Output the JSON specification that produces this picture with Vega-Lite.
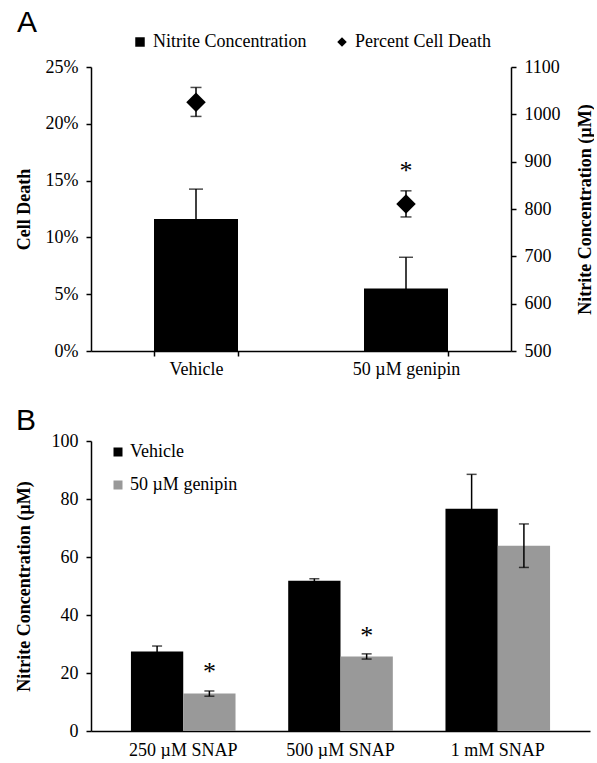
{
  "$schema": "https://vega.github.io/schema/vega-lite/v6.json",
  "padding": {"left": 15, "top": 8, "right": 0, "bottom": 0},
  "background": "white",
  "config": {
    "font": "Liberation Serif",
    "view": {"stroke": null},
    "style": {"guide-label": {"font": "Liberation Serif", "fontSize": 18, "fill": "#000"}, "guide-title": {"font": "Liberation Serif"}},
    "axis": {
      "domainColor": "#000", "domainWidth": 1.5,
      "tickColor": "#000", "tickWidth": 1.5, "tickSize": 5,
      "labelFont": "Liberation Serif", "labelFontSize": 18, "labelColor": "#000",
      "titleFont": "Liberation Serif", "titleFontSize": 18, "titleFontWeight": "bold", "titleColor": "#000",
      "grid": false, "labelPadding": 8
    },
    "legend": {"labelFont": "Liberation Serif", "labelFontSize": 18, "labelColor": "#000", "padding": 0, "labelOffset": 4, "title": null},
    "title": {"font": "Liberation Sans", "fontSize": 30, "fontWeight": "normal", "color": "#000", "anchor": "start", "frame": "bounds"}
  },
  "spacing": 28,
  "resolve": {"legend": {"color": "independent", "shape": "independent"}, "scale": {"color": "independent", "shape": "independent"}},
  "vconcat": [
    {
      "title": {"text": "A", "offset": -5, "dx": 2},
      "width": 420,
      "height": 284,
      "data": {"values": [
        {"group": "Vehicle", "nitrite": 779, "nitrite_lo": 716, "nitrite_hi": 842, "death": 21.9, "death_lo": 20.65, "death_hi": 23.2, "series": "Percent Cell Death"},
        {"group": "50 µM genipin", "nitrite": 632, "nitrite_lo": 566, "nitrite_hi": 698, "death": 12.95, "death_lo": 11.8, "death_hi": 14.1, "series": "Percent Cell Death"}
      ]},
      "encoding": {
        "x": {"field": "group", "type": "nominal", "sort": null,
              "scale": {"paddingInner": 0.6, "paddingOuter": 0.3},
              "axis": {"title": null, "labelAngle": 0, "tickBand": "extent", "labelPadding": 4, "labelFont": "Liberation Serif", "labelFontSize": 18}}
      },
      "layer": [
        {
          "layer": [
            {"mark": {"type": "bar", "color": "#000"},
             "encoding": {
               "y": {"field": "nitrite", "type": "quantitative", "scale": {"domain": [500, 1100], "zero": false, "nice": false},
                     "axis": {"orient": "right", "title": "Nitrite Concentration (µM)", "values": [500, 600, 700, 800, 900, 1000, 1100], "format": "d",
                              "titleAngle": 270, "titleBaseline": "top", "titlePadding": 16,
                              "titleFont": "Liberation Serif", "titleFontSize": 18, "titleFontWeight": "bold", "labelFont": "Liberation Serif", "labelFontSize": 18}},
               "y2": {"datum": 500}
             }},
            {"mark": {"type": "rule", "color": "#000", "strokeWidth": 1.5},
             "encoding": {
               "y": {"field": "nitrite_lo", "type": "quantitative"},
               "y2": {"field": "nitrite_hi"}
             }},
            {"mark": {"type": "tick", "color": "#000", "thickness": 1.5, "size": 14},
             "encoding": {"y": {"field": "nitrite_hi", "type": "quantitative"}}}
          ]
        },
        {
          "layer": [
            {"mark": {"type": "rule", "color": "#000", "strokeWidth": 1.5},
             "encoding": {
               "y": {"field": "death_lo", "type": "quantitative", "scale": {"domain": [0, 25], "nice": false},
                     "axis": {"orient": "left", "title": "Cell Death", "values": [0, 5, 10, 15, 20, 25], "labelExpr": "datum.value + '%'", "titlePadding": 12,
                              "titleFont": "Liberation Serif", "titleFontSize": 18, "titleFontWeight": "bold", "labelFont": "Liberation Serif", "labelFontSize": 18}},
               "y2": {"field": "death_hi"}
             }},
            {"mark": {"type": "tick", "color": "#000", "thickness": 1.5, "size": 11},
             "encoding": {"y": {"field": "death_hi", "type": "quantitative"}}},
            {"mark": {"type": "tick", "color": "#000", "thickness": 1.5, "size": 11},
             "encoding": {"y": {"field": "death_lo", "type": "quantitative"}}},
            {"mark": {"type": "point", "filled": true, "color": "#000", "opacity": 1, "size": 380},
             "encoding": {
               "y": {"field": "death", "type": "quantitative"},
               "shape": {"field": "series", "type": "nominal",
                         "scale": {"domain": ["Nitrite Concentration", "Percent Cell Death"], "range": ["square", "diamond"]},
                         "legend": {"orient": "none", "direction": "horizontal", "legendX": 40, "legendY": -34, "symbolSize": 90, "symbolFillColor": "#000", "symbolStrokeWidth": 0, "columnPadding": 26, "symbolOpacity": 1,
                                    "labelFont": "Liberation Serif", "labelFontSize": 18, "labelColor": "#000", "labelOffset": 4, "padding": 0,
                                    "labelFontWeight": "normal",
                                    "encode": {"labels": {"update": {"font": {"value": "Liberation Serif"}, "fontSize": {"value": 18}}}}}}
             }},
            {"data": {"values": [{"group": "50 µM genipin", "star": 16.35}]},
             "mark": {"type": "text", "text": "*", "fontSize": 26, "font": "Liberation Serif", "color": "#000", "baseline": "middle", "dy": 6},
             "encoding": {"y": {"field": "star", "type": "quantitative"}}}
          ]
        }
      ],
      "resolve": {"scale": {"y": "independent"}}
    },
    {
      "title": {"text": "B", "offset": -4, "dx": 1},
      "width": 499,
      "height": 290,
      "data": {"values": [
        {"dose": "250 µM SNAP", "treatment": "Vehicle", "value": 27.4, "lo": 25.5, "hi": 29.3},
        {"dose": "250 µM SNAP", "treatment": "50 µM genipin", "value": 12.9, "lo": 12.0, "hi": 13.8},
        {"dose": "500 µM SNAP", "treatment": "Vehicle", "value": 51.8, "lo": 51.1, "hi": 52.5},
        {"dose": "500 µM SNAP", "treatment": "50 µM genipin", "value": 25.7, "lo": 24.8, "hi": 26.6},
        {"dose": "1 mM SNAP", "treatment": "Vehicle", "value": 76.6, "lo": 64.7, "hi": 88.5},
        {"dose": "1 mM SNAP", "treatment": "50 µM genipin", "value": 63.9, "lo": 56.4, "hi": 71.4}
      ]},
      "encoding": {
        "x": {"field": "dose", "type": "nominal", "sort": null,
              "scale": {"paddingInner": 0.335, "paddingOuter": 0.254},
              "axis": {"title": null, "labelAngle": 0, "ticks": false, "labelPadding": 10, "labelFont": "Liberation Serif", "labelFontSize": 18}},
        "xOffset": {"field": "treatment", "type": "nominal", "sort": ["Vehicle", "50 µM genipin"], "scale": {"domain": ["Vehicle", "50 µM genipin"], "paddingInner": 0, "paddingOuter": 0}}
      },
      "layer": [
        {"mark": {"type": "bar"},
         "encoding": {
           "y": {"field": "value", "type": "quantitative", "scale": {"domain": [0, 100], "nice": false},
                 "axis": {"title": "Nitrite Concentration (µM)", "values": [0, 20, 40, 60, 80, 100], "titlePadding": 18,
                          "titleFont": "Liberation Serif", "titleFontSize": 18, "titleFontWeight": "bold", "labelFont": "Liberation Serif", "labelFontSize": 18}},
           "color": {"field": "treatment", "type": "nominal",
                     "scale": {"domain": ["Vehicle", "50 µM genipin"], "range": ["#000000", "#999999"]},
                     "legend": {"orient": "none", "direction": "vertical", "legendX": 18, "legendY": 2, "symbolType": "square", "symbolSize": 81, "symbolStrokeWidth": 0, "rowPadding": 15, "symbolOpacity": 1,
                                "labelFont": "Liberation Serif", "labelFontSize": 18, "labelColor": "#000", "labelOffset": 3, "padding": 0,
                                "encode": {"labels": {"update": {"font": {"value": "Liberation Serif"}, "fontSize": {"value": 18}}}}}}
         }},
        {"mark": {"type": "rule", "color": "#000", "strokeWidth": 1.5},
         "encoding": {"y": {"field": "lo", "type": "quantitative"}, "y2": {"field": "hi"}}},
        {"mark": {"type": "tick", "color": "#000", "thickness": 1.5, "size": 10},
         "encoding": {"y": {"field": "hi", "type": "quantitative"}}},
        {"mark": {"type": "tick", "color": "#000", "thickness": 1.5, "size": 10},
         "encoding": {"y": {"field": "lo", "type": "quantitative"}}},
        {"data": {"values": [
           {"dose": "250 µM SNAP", "treatment": "50 µM genipin", "star": 22.3},
           {"dose": "500 µM SNAP", "treatment": "50 µM genipin", "star": 34.7}
         ]},
         "mark": {"type": "text", "text": "*", "fontSize": 26, "font": "Liberation Serif", "color": "#000", "baseline": "middle", "dy": 6},
         "encoding": {"y": {"field": "star", "type": "quantitative"}}}
      ]
    }
  ]
}
